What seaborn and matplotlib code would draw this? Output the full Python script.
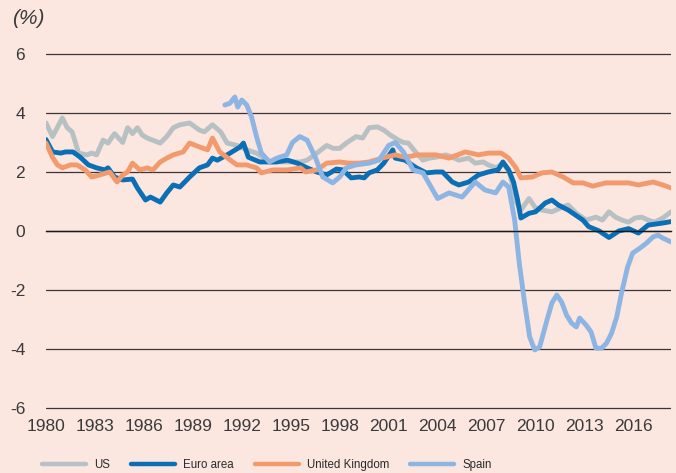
import pandas as pd
import matplotlib.pyplot as plt
import seaborn as sns

# Inflation expectations (%)
us_years = [1980.0, 1980.4, 1981.0, 1981.3, 1981.6, 1982.0, 1982.5, 1982.8, 1983.1, 1983.5,
            1983.8, 1984.2, 1984.7, 1985.0, 1985.3, 1985.6, 1985.9, 1986.2, 1987.0, 1987.4,
            1987.8, 1988.2, 1988.8, 1989.4, 1989.7, 1990.2, 1990.7, 1991.1, 1991.7, 1992.3,
            1992.9, 1993.7, 1994.8, 1995.6, 1996.0, 1996.6, 1997.2, 1997.6, 1998.0, 1998.4,
            1999.0, 1999.4, 1999.8, 2000.3, 2000.7, 2001.1, 2001.6, 2001.9, 2002.2, 2002.7,
            2003.1, 2003.5, 2003.9, 2004.5, 2004.9, 2005.3, 2005.9, 2006.3, 2006.8, 2007.1,
            2007.6, 2008.0, 2008.4, 2008.8, 2009.1, 2009.6, 2010.0, 2010.4, 2011.0, 2011.7,
            2012.0, 2012.5, 2013.1, 2013.7, 2014.1, 2014.5, 2014.9, 2015.3, 2015.7, 2016.1,
            2016.5, 2016.9, 2017.3, 2017.8, 2018.3]
us_vals = [3.66, 3.2, 3.83, 3.5, 3.36, 2.64, 2.58, 2.64, 2.58, 3.08,
           2.98, 3.3, 3.0, 3.5, 3.3, 3.5, 3.25, 3.15, 2.98, 3.2,
           3.5, 3.6, 3.66, 3.42, 3.36, 3.6, 3.36, 2.98, 2.9, 2.75,
           2.64, 2.34, 2.34, 2.34, 2.4, 2.64, 2.9, 2.8, 2.8, 2.98,
           3.2, 3.15, 3.5, 3.53, 3.42, 3.25, 3.08, 3.0, 2.98, 2.64,
           2.4, 2.47, 2.5, 2.58, 2.5, 2.4, 2.47, 2.3, 2.34, 2.24,
           2.14, 2.3, 2.0, 1.0, 0.71, 1.1, 0.78, 0.71, 0.65, 0.82,
           0.88, 0.6, 0.37, 0.47, 0.37, 0.65, 0.47, 0.37, 0.3, 0.44,
           0.47, 0.37, 0.3, 0.44, 0.65]

euro_years = [1980.0, 1980.4, 1980.9, 1981.2, 1981.65, 1982.1, 1982.6, 1983.1, 1983.6, 1983.8,
              1984.2, 1984.7, 1985.3, 1985.6, 1986.1, 1986.4, 1987.0, 1987.4, 1987.8, 1988.2,
              1988.8, 1989.4, 1989.9, 1990.2, 1990.5, 1991.1, 1991.9, 1992.1, 1992.4, 1993.1,
              1994.1, 1994.8, 1995.4, 1996.0, 1996.6, 1997.2, 1997.8, 1998.2, 1998.7, 1999.2,
              1999.5, 1999.8, 2000.3, 2000.7, 2001.25, 2001.4, 2002.0, 2002.7, 2003.3, 2003.9,
              2004.3, 2004.9, 2005.3, 2005.9, 2006.5, 2007.1, 2007.7, 2008.0, 2008.35, 2008.65,
              2008.9, 2009.1, 2009.6, 2010.0, 2010.6, 2011.0, 2011.4, 2012.0, 2012.9, 2013.25,
              2013.9, 2014.5, 2015.1, 2015.7, 2016.3, 2016.9, 2017.8, 2018.3]
euro_vals = [3.1, 2.68, 2.64, 2.68, 2.68, 2.5, 2.24, 2.14, 2.07, 2.14,
             1.83, 1.73, 1.76, 1.46, 1.05, 1.15, 0.98, 1.29, 1.56, 1.49,
             1.83, 2.14, 2.24, 2.47, 2.4, 2.58, 2.85, 2.98, 2.5, 2.34,
             2.34, 2.4, 2.3, 2.14, 2.0, 1.9, 2.1, 2.07, 1.8, 1.83,
             1.8, 1.97, 2.07, 2.3, 2.75, 2.47, 2.4, 2.14, 1.97, 2.0,
             2.0, 1.66, 1.56, 1.66, 1.9, 2.0, 2.07, 2.34, 2.07, 1.66,
             1.05, 0.44, 0.6, 0.65, 0.95, 1.05, 0.88, 0.71, 0.37, 0.15,
             0.0, -0.22, 0.0, 0.08, -0.07, 0.2, 0.27, 0.32]

uk_years = [1980.0, 1980.4, 1980.7, 1981.0, 1981.5, 1981.9, 1982.4, 1982.8, 1983.3, 1983.9,
            1984.35, 1984.7, 1985.0, 1985.3, 1985.75, 1986.2, 1986.55, 1987.0, 1987.4, 1987.8,
            1988.4, 1988.8, 1989.4, 1989.9, 1990.2, 1990.65, 1991.3, 1991.7, 1992.3, 1992.9,
            1993.2, 1993.9, 1994.8, 1995.6, 1995.9, 1996.6, 1997.2, 1998.0, 1998.55, 1999.2,
            1999.8, 2000.6, 2001.4, 2002.0, 2002.8, 2003.9, 2004.7, 2005.7, 2006.5, 2007.1,
            2007.9, 2008.35, 2008.8, 2009.1, 2009.8, 2010.4, 2011.0, 2011.7, 2012.3, 2012.9,
            2013.5, 2014.3, 2015.1, 2015.7, 2016.3, 2017.2, 2017.8, 2018.3]
uk_vals = [2.98, 2.5, 2.24, 2.14, 2.24, 2.24, 2.07, 1.83, 1.9, 2.0,
           1.66, 1.9, 2.0, 2.3, 2.07, 2.14, 2.07, 2.34, 2.47, 2.58,
           2.68, 2.98, 2.85, 2.75, 3.15, 2.68, 2.4, 2.24, 2.24, 2.14,
           1.97, 2.07, 2.07, 2.14, 2.0, 2.07, 2.3, 2.34, 2.3, 2.3,
           2.34, 2.47, 2.58, 2.5, 2.58, 2.58, 2.47, 2.68, 2.58, 2.64,
           2.64, 2.47, 2.14, 1.8, 1.83, 1.97, 2.0, 1.83, 1.63, 1.63,
           1.52, 1.63, 1.63, 1.63, 1.56, 1.66, 1.56, 1.46]

spain_years = [1990.96, 1991.27, 1991.57, 1991.75, 1992.0, 1992.3, 1992.6, 1992.9, 1993.2, 1993.7,
               1994.15, 1994.75, 1995.1, 1995.55, 1996.0, 1996.5, 1996.96, 1997.57, 1998.0, 1998.4,
               1999.0, 1999.8, 2000.4, 2001.0, 2001.4, 2001.9, 2002.5, 2003.1, 2003.7, 2004.0,
               2004.7, 2005.5, 2006.3, 2006.9, 2007.55, 2008.0, 2008.35, 2008.72, 2009.0, 2009.33,
               2009.64, 2009.95, 2010.25, 2010.7, 2011.0, 2011.3, 2011.6, 2011.9, 2012.2, 2012.5,
               2012.7, 2013.1, 2013.4, 2013.7, 2014.05, 2014.35, 2014.66, 2014.97, 2015.27, 2015.64,
               2015.95, 2016.4, 2016.8, 2017.2, 2017.5, 2017.8, 2018.3]
spain_vals = [4.27, 4.33, 4.54, 4.2, 4.44, 4.27, 3.86, 3.2, 2.64, 2.34,
              2.47, 2.58, 3.0, 3.2, 3.08, 2.5, 1.83, 1.63, 1.83, 2.14,
              2.24, 2.3, 2.4, 2.9, 3.0, 2.68, 2.07, 1.97, 1.39, 1.1,
              1.29, 1.15, 1.66, 1.39, 1.29, 1.66, 1.49, 0.37, -1.08, -2.44,
              -3.59, -4.03, -3.93, -3.02, -2.44, -2.17, -2.41, -2.85, -3.12, -3.25,
              -2.95, -3.19, -3.42, -3.97, -3.97, -3.8, -3.46, -2.92, -2.1, -1.22,
              -0.75, -0.58, -0.41, -0.2, -0.14, -0.24, -0.37]

series_names = ['US', 'Euro area', 'United Kingdom', 'Spain']
series_colors = ['#b7c0c3', '#0a6fb5', '#f39a6d', '#8db5e3']
x_ticks = list(range(1980, 2017, 3))
y_ticks = [-6, -4, -2, 0, 2, 4, 6]

frames = []
for name, xs, ys in zip(series_names,
                        [us_years, euro_years, uk_years, spain_years],
                        [us_vals, euro_vals, uk_vals, spain_vals]):
    frames.append(pd.DataFrame({'year': xs, 'value': ys, 'series': name}))
df = pd.concat(frames, ignore_index=True)

bg = '#fbe6e0'
sns.set_style('white')
plt.rcParams['font.family'] = ['Liberation Sans Narrow', 'Liberation Sans', 'DejaVu Sans']
plt.rcParams['axes.unicode_minus'] = False

fig = plt.figure(figsize=(6.76, 4.73), dpi=100, facecolor=bg)
ax = fig.add_axes([46 / 676, 1 - 411 / 473, (671 - 46) / 676, (411 - 51) / 473])
ax.set_facecolor(bg)

sns.lineplot(data=df, x='year', y='value', hue='series', hue_order=series_names,
             palette=series_colors, estimator=None, sort=False, linewidth=3.5, ax=ax)
for line in ax.lines:
    line.set_solid_capstyle('round')
    line.set_solid_joinstyle('round')

ax.set_xlim(1980, 2018.3)
ax.set_ylim(-6.1, 6.1)
ax.set_yticks(y_ticks)
ax.set_yticklabels([str(v) for v in y_ticks])
ax.grid(axis='y', color='#3b3535', linewidth=0.9)
ax.set_axisbelow(True)
ax.tick_params(axis='y', length=0, pad=15, labelsize=12.5, labelcolor='#3a3a3a')
for s in ['top', 'right', 'left']:
    ax.spines[s].set_visible(False)

# zero line carries the tick marks, labels sit at the bottom
ax.spines['bottom'].set_position(('data', 0))
ax.spines['bottom'].set_color('#1a1a1a')
ax.spines['bottom'].set_linewidth(1.0)
ax.set_xticks(x_ticks)
ax.tick_params(axis='x', direction='in', length=4, width=1.0, color='#1a1a1a', labelbottom=False)

sec = ax.secondary_xaxis('bottom')
sec.set_xticks(x_ticks)
sec.set_xticklabels([str(v) for v in x_ticks])
sec.tick_params(length=0, pad=6, labelsize=12.5, labelcolor='#3a3a3a')
sec.spines['bottom'].set_visible(False)

ax.set_xlabel('')
ax.set_ylabel('')
fig.text(12 / 676, 1 - 18 / 473, '(%)', style='italic', fontsize=15, color='#3a3a3a',
         ha='left', va='center')

handles, labels = ax.get_legend_handles_labels()
ax.get_legend().remove()
leg = fig.legend(handles, labels, loc='center left', bbox_to_anchor=(42 / 676, 1 - 465 / 473),
                 ncol=4, frameon=False, fontsize=8.3, handlelength=3.8, handletextpad=0.7,
                 columnspacing=1.85, borderpad=0, borderaxespad=0)
for h in leg.get_lines():
    h.set_linewidth(3.2)
    h.set_solid_capstyle('round')
for t in leg.get_texts():
    t.set_color('#2a2a2a')

fig.savefig('out.png', dpi=100, facecolor=bg)
